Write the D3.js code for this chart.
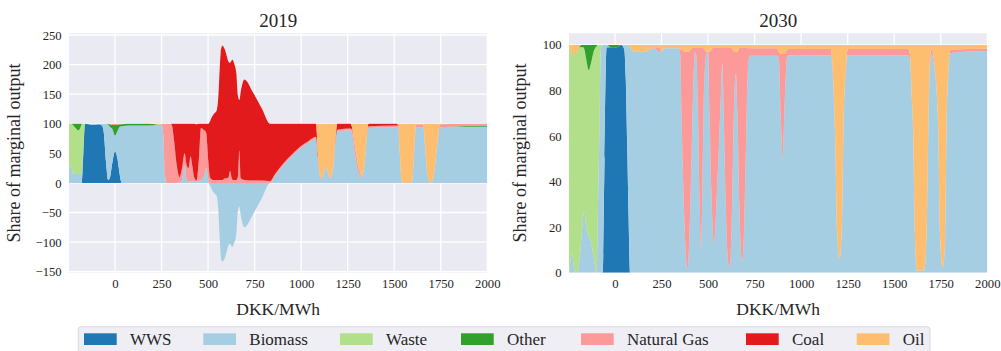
<!DOCTYPE html>
<html>
<head>
<meta charset="utf-8">
<script src="https://cdn.jsdelivr.net/npm/d3@7"></script>
<style>
  body { margin: 0; background: #fff; }
  svg { display: block; }
  svg text { font-family: "Liberation Serif", "Times New Roman", serif !important; fill: #262626; }
</style>
</head>
<body>
<svg id="chart" width="1001" height="351"></svg>
<script>
// Technologies, bottom to top in the stack
const categories = ["WWS", "Biomass", "Waste", "Other", "Natural Gas", "Coal", "Oil"];
const palette = ["#1f78b4", "#a6cee3", "#b2df8a", "#33a02c", "#fb9a99", "#e31a1c", "#fdbf6f"];

// ---- 2019: share of marginal output (%) by electricity price (DKK/MWh)
const price2019 = [
  -247,-235,-226,-212,-196,-184,-179,-170,-161,-140,
  -110,-88,-70,-60,-48,-37,-28,-14,0,14,
  25,36,70,150,205,232,252,260,268,278,
  300,308,318,332,347,360,374,385,395,406,
  416,426,438,450,462,476,490,501,510,520,
  532,546,555,563,570,577,590,602,610,618,
  630,642,652,660,668,676,695,743,790,833,
  860,904,950,994,1040,1080,1090,1100,1110,1122,
  1133,1145,1158,1170,1182,1194,1265,1275,1288,1302,
  1314,1325,1340,1352,1362,1510,1522,1530,1540,1555,
  1585,1597,1607,1617,1656,1666,1678,1690,1702,1714,
  1730,1746,1850,2000];
const wws2019 = [
  0,0,0,0,0,0,0,50,100,99,
  98,99,97,85,35,5,8,35,53,40,
  15,0,0,0,0,0,0,0,0,0,
  0,0,0,0,0,0,0,0,0,0,
  0,0,0,0,0,0,0,0,0,0,
  0,0,0,0,0,0,0,0,0,0,
  0,0,0,0,0,0,0,0,0,0,
  0,0,0,0,0,0,0,0,0,0,
  0,0,0,0,0,0,0,0,0,0,
  0,0,0,0,0,0,0,0,0,0,
  0,0,0,0,0,0,0,0,0,0,
  0,0,0,0];
const biomass2019 = [
  28,27,17,15,15,15,15,8,0,1,
  2,1,3,15,65,94,87,56,27,48,
  80,96,97,97,97.5,98,97,80,15,0,
  0,0,0,0,1,5,30,5,2,3,
  3,3,2,3,5,10,25,8,-4,-11,
  -17,-22,-45,-95,-128,-133,-127,-114,-105,-103,
  -108,-100,-85,-48,-40,-55,-75,-52,-25,0,
  12,30,45,58,68,75,40,12,6,15,
  26,15,7,20,60,87,89,82,50,25,
  14,9,30,75,93,94,93,50,3,0,
  0,5,50,94,94,60,15,1,1,15,
  60,94,95,95];
const waste2019 = [
  72,73,81,78,74,80,84,42,0,0,
  0,0,0,0,0,0,0,0,0,0,
  0,0,0,0,0,0,0,0,0,0,
  0,0,0,0,0,0,0,0,0,0,
  0,0,0,0,0,0,0,0,0,0,
  0,0,0,0,0,0,0,0,0,0,
  0,0,0,0,0,0,0,0,0,0,
  0,0,0,0,0,0,0,0,0,0,
  0,0,0,0,0,0,0,0,0,0,
  0,0,0,0,0,0,0,0,0,0,
  0,0,0,0,0,0,0,0,0,0,
  0,0,0,0];
const other2019 = [
  0,0,2,7,11,5,1,0,0,0,
  0,0,0,0,0,1,4,7,18,10,
  4,3,3,3,2,0.5,0,0,0,0,
  0,0,0,0,0,0,0,0,0,0,
  0,0,0,0,0,0,0,0,0,0,
  0,0,0,0,0,0,0,0,0,0,
  0,0,0,0,0,0,0,0,0,0,
  0,0,0,0,0,0,0,0,0,0,
  0,0,0,0,0,0,0,0,0,0,
  0,0,0,0,0,0,0,0,0,0,
  0,0,0,0,0,0,0,0,0,0,
  0,0,1,2];
const gas2019 = [
  0,0,0,0,0,0,0,0,0,0,
  0,0,0,0,0,0,1,2,2,2,
  1,1,0,0,0,0,2,20,85,100,
  100,95,70,30,9,20,20,25,23,42,
  25,6,2,35,88,80,60,30,10,6,
  5,5,5,5,5,5,8,8,10,20,
  6,5,5,10,55,8,5,4,4,3,
  3,3,3,3,3,3,4,3,2,2,
  2,2,2,2,3,3,3,7,15,12,
  6,2,1,2,3,3,4,3,1,0,
  0,1,2,5,5,3,1,0,0,1,
  2,5,4,3];
const coal2019 = [
  0,0,0,0,0,0,0,0,0,0,
  0,0,0,0,0,0,0,0,0,0,
  0,0,0,0,0,0,0,0,0,0,
  0,5,30,70,90,75,50,70,75,55,
  72,91,95,62,7,10,15,62,94,105,
  112,117,140,190,222,227,218,205,195,183,
  202,195,180,138,85,147,170,148,121,97,
  85,67,52,39,29,22,6,0,0,0,
  0,0,0,0,2,10,8,3,0,0,
  0,0,0,0,4,3,1,0,0,0,
  0,0,0,0,0,0,0,0,0,0,
  0,0,0,0];
const oil2019 = [
  0,0,0,0,0,0,0,0,0,0,
  0,0,0,0,0,0,0,0,0,0,
  0,0,0,0,0.5,1.5,1,0,0,0,
  0,0,0,0,0,0,0,0,0,0,
  0,0,1,0,0,0,0,0,0,0,
  0,0,0,0,1,1,1,1,0,0,
  0,0,0,0,0,0,0,0,0,0,
  0,0,0,0,0,0,50,85,92,83,
  72,83,91,78,35,0,0,8,35,63,
  80,89,69,23,0,0,2,47,96,100,
  100,94,48,1,1,37,84,99,99,84,
  38,1,0,0];

// ---- 2030
const price2030 = [
  -247,-238,-231,-222,-213,-203,-193,-180,-170,-164,
  -155,-141,-129,-115,-98,-94,-84,-76,-66,-56,
  -45,-20,10,35,50,58,66,73,81,110,
  150,190,215,235,251,265,340,350,360,372,
  382,389,396,408,420,431,437,446,455,462,
  470,480,492,500,508,518,532,545,558,570,
  577,584,595,606,614,622,632,642,650,658,
  668,678,684,692,705,716,725,870,880,890,
  901,912,925,935,1160,1168,1182,1194,1205,1218,
  1227,1242,1250,1575,1585,1595,1602,1611,1621,1660,
  1674,1683,1692,1701,1712,1727,1737,1746,1760,1775,
  1781,1792,1803,2000];
const wws2030 = [
  0,0,0,0,0,0,0,0,0,0,
  0,0,0,0,0,0,0,0,0,50,
  99,99,99,100,98,85,55,25,0,0,
  0,0,0,0,0,0,0,0,0,0,
  0,0,0,0,0,0,0,0,0,0,
  0,0,0,0,0,0,0,0,0,0,
  0,0,0,0,0,0,0,0,0,0,
  0,0,0,0,0,0,0,0,0,0,
  0,0,0,0,0,0,0,0,0,0,
  0,0,0,0,0,0,0,0,0,0,
  0,0,0,0,0,0,0,0,0,0,
  0,0,0,0];
const biomass2030 = [
  0,6,8.5,3,0,0,4,16,25,27,
  20,16,13.5,7,0,17,61,98,100,50,
  1,0,0,0,2,15,45,75,99,97,
  97,98,98.5,97,97,98.5,98.5,96,60,25,
  6,1.6,8,40,80,97,95,70,30,10,
  40,85,96,97,70,35,13,30,55,80,
  92,70,30,6,2.5,8,40,80,87.5,70,
  30,8,5,15,60,92,95.2,95.2,94,70,
  50,75,95,95.5,95.5,90,61,17,6,17,
  61,90,95.5,95.5,93,75,61,17,1,1,
  17,61,90,96,92,80,61,17,2,17,
  61,88,96.5,97.3];
const waste2030 = [
  99,92,87.5,93,96,97,95,83,74,71,
  74,73,78.5,90,99.5,83,39,2,0,0,
  0,0,0,0,0,0,0,0,0,0,
  0,0,0,0,0,0,0,0,0,0,
  0,0,0,0,0,0,0,0,0,0,
  0,0,0,0,0,0,0,0,0,0,
  0,0,0,0,0,0,0,0,0,0,
  0,0,0,0,0,0,0,0,0,0,
  0,0,0,0,0,0,0,0,0,0,
  0,0,0,0,0,0,0,0,0,0,
  0,0,0,0,0,0,0,0,0,0,
  0,0,0,0];
const other2030 = [
  0,0,0,0,0,0,0,1,1,2,
  6,11,8,3,0.5,0,0,0,0,0,
  0,1,1,0,0,0,0,0,0,0,
  0,0,0,0,0,0,0,0,0,0,
  0,0,0,0,0,0,0,0,0,0,
  0,0,0,0,0,0,0,0,0,0,
  0,0,0,0,0,0,0,0,0,0,
  0,0,0,0,0,0,0,0,0,0,
  0,0,0,0,0,0,0,0,0,0,
  0,0,0,0,0,0,0,0,0,0,
  0,0,0,0,0,0,0,0,0,0,
  0,0,0,0];
const gas2030 = [
  0,0,0,0,0,0,0,0,0,0,
  0,0,0,0,0,0,0,0,0,0,
  0,0,0,0,0,0,0,0,0,0,
  0,0,0.5,2,0.5,0,0,2,38,72,
  91,95.4,89,58,19,2,4,29,69,89,
  59,13,1,0,27,63,86,69,44,19,
  7,29,69,93,96.5,91,58,17,9.5,27,
  69,91,94,84,39,6.5,3.3,3.3,3,26,
  46,21,3,2.7,2.7,2,1,0.5,0,0.5,
  1,2,2.7,2.7,2,1,1,0,0,0,
  0,1,3,2.5,2,1,1,0,0,0,
  1,2,1.5,1];
const coal2030 = [
  0,0,0,0,0,0,0,0,0,0,
  0,0,0,0,0,0,0,0,0,0,
  0,0,0,0,0,0,0,0,0,0,
  0,0,0,0,0,0,0,0,0,0,
  0,0,0,0,0,0,0,0,0,0,
  0,0,0,0,0,0,0,0,0,0,
  0,0,0,0,0,0,0,0,0,0,
  0,0,0,0,0,0,0,0,0,0,
  0,0,0,0,0,0,0,0,0,0,
  0,0,0,0,0,0,0,0,0,0,
  0,0,0,0,0,0,0,0,0,0,
  0,0,0,0];
const oil2030 = [
  1,2,4,4,4,3,1,0,0,0,
  0,0,0,0,0,0,0,0,0,0,
  0,0,0,0,0,0,0,0,1,3,
  3,2,1,1,2.5,1.5,1.5,2,2,3,
  3,3,3,2,1,1,1,1,1,1,
  1,2,3,3,3,2,1,1,1,1,
  1,1,1,1,1,1,2,3,3,3,
  1,1,1,1,1,1.5,1.5,1.5,3,4,
  4,4,2,1.8,1.8,8,38,82.5,94,82.5,
  38,8,1.8,1.8,5,24,38,83,99,99,
  83,38,7,1.5,6,19,38,83,98,83,
  38,10,2,1.7];

// Axis ticks
const priceTicks = [0, 250, 500, 750, 1000, 1250, 1500, 1750, 2000];
const shareTicks2019 = [-150, -100, -50, 0, 50, 100, 150, 200, 250];
const shareTicks2030 = [0, 20, 40, 60, 80, 100];

const panels = [
  { title: "2019", price: price2019,
    series: [wws2019, biomass2019, waste2019, other2019, gas2019, coal2019, oil2019],
    yDomain: [-151.7, 252.9], yTicks: shareTicks2019, left: 69, right: 487.3, ylabelX: 19.5 },
  { title: "2030", price: price2030,
    series: [wws2030, biomass2030, waste2030, other2030, gas2030, coal2030, oil2030],
    yDomain: [0, 105.1], yTicks: shareTicks2030, left: 569, right: 987.3, ylabelX: 525.5 }
];

const plotTop = 33.3, plotBottom = 272.7;
const serif = '"Liberation Serif", "Times New Roman", serif';
const fmt = d3.format("d");
const svg = d3.select("#chart");
svg.append("rect").attr("width", 1001).attr("height", 351).attr("fill", "#fff");

// Positive shares stack upward from zero, negative shares downward;
// zero shares stay on the positive stack so bands keep their place.
function offsetSplit(series, order) {
  const m = series[0].length;
  for (let j = 0; j < m; ++j) {
    let yp = 0, yn = 0;
    for (const i of order) {
      const d = series[i][j];
      const dy = d[1] - d[0];
      if (dy < 0) { d[1] = yn; d[0] = yn += dy; }
      else { d[0] = yp; d[1] = yp += dy; }
    }
  }
}

panels.forEach((p, pi) => {
  const x = d3.scaleLinear().domain([-247, 2000]).range([p.left, p.right]);
  const y = d3.scaleLinear().domain(p.yDomain).range([plotBottom, plotTop]);
  const g = svg.append("g");

  g.append("rect").attr("x", p.left).attr("y", plotTop)
    .attr("width", p.right - p.left).attr("height", plotBottom - plotTop).attr("fill", "#eaeaf2");

  // grid
  g.append("g").selectAll("line").data(priceTicks).join("line")
    .attr("x1", d => x(d)).attr("x2", d => x(d)).attr("y1", plotTop).attr("y2", plotBottom)
    .attr("stroke", "#fff").attr("stroke-width", 1.3);
  g.append("g").selectAll("line").data(p.yTicks).join("line")
    .attr("x1", p.left).attr("x2", p.right).attr("y1", d => y(d)).attr("y2", d => y(d))
    .attr("stroke", "#fff").attr("stroke-width", 1.3);

  // stacked areas
  const rows = p.price.map((v, i) => {
    const r = { price: v };
    categories.forEach((c, k) => r[c] = p.series[k][i]);
    return r;
  });
  const stacked = d3.stack().keys(categories).offset(offsetSplit)(rows);
  const area = d3.area()
    .x(d => x(d.data.price)).y0(d => y(d[0])).y1(d => y(d[1]))
    .curve(d3.curveMonotoneX);

  const clipId = "clip" + pi;
  svg.append("clipPath").attr("id", clipId).append("rect")
    .attr("x", p.left).attr("y", plotTop).attr("width", p.right - p.left).attr("height", plotBottom - plotTop);
  g.append("g").attr("clip-path", `url(#${clipId})`)
    .selectAll("path").data(stacked).join("path")
    .attr("d", area).attr("fill", (d, i) => palette[i]);

  // axes
  const ax = g.append("g").attr("transform", `translate(0,${plotBottom})`)
    .call(d3.axisBottom(x).tickValues(priceTicks).tickFormat(fmt).tickSize(0).tickPadding(6.3));
  const ay = g.append("g").attr("transform", `translate(${p.left},0)`)
    .call(d3.axisLeft(y).tickValues(p.yTicks).tickFormat(fmt).tickSize(0).tickPadding(7.3));
  [ax, ay].forEach(a => {
    a.select(".domain").remove();
    a.attr("font-family", serif).attr("font-size", 12.7);
    a.selectAll("text").style("font-family", serif).style("font-size", "12.7px").attr("fill", "#262626");
  });

  const cx = (p.left + p.right) / 2;
  g.append("text").attr("x", cx).attr("y", 26.7).attr("text-anchor", "middle")
    .style("font-size", "19px").text(p.title);
  g.append("text").attr("x", cx).attr("y", 315).attr("text-anchor", "middle")
    .style("font-size", "17.5px").text("DKK/MWh");
  g.append("text")
    .attr("transform", `translate(${p.ylabelX},${(plotTop + plotBottom) / 2}) rotate(-90)`)
    .attr("text-anchor", "middle").style("font-size", "18px")
    .text("Share of marginal output");
});

// legend
const legendX = [84, 203.3, 340, 461, 581, 746, 856.7];
const lg = svg.append("g");
lg.append("rect").attr("x", 78.3).attr("y", 326.7).attr("width", 851.7).attr("height", 40)
  .attr("rx", 3).attr("fill", "#eeeef4").attr("stroke", "#cfcfd6").attr("stroke-width", 0.8);
const items = lg.selectAll("g.item").data(categories).join("g")
  .attr("class", "item").attr("transform", (d, i) => `translate(${legendX[i]},0)`);
items.append("rect").attr("x", 0).attr("y", 333.3).attr("width", 32.7).attr("height", 11.7)
  .attr("fill", (d, i) => palette[i]);
items.append("text").attr("x", 46).attr("y", 344.6).style("font-size", "17px").text(d => d);
</script>
</body>
</html>
